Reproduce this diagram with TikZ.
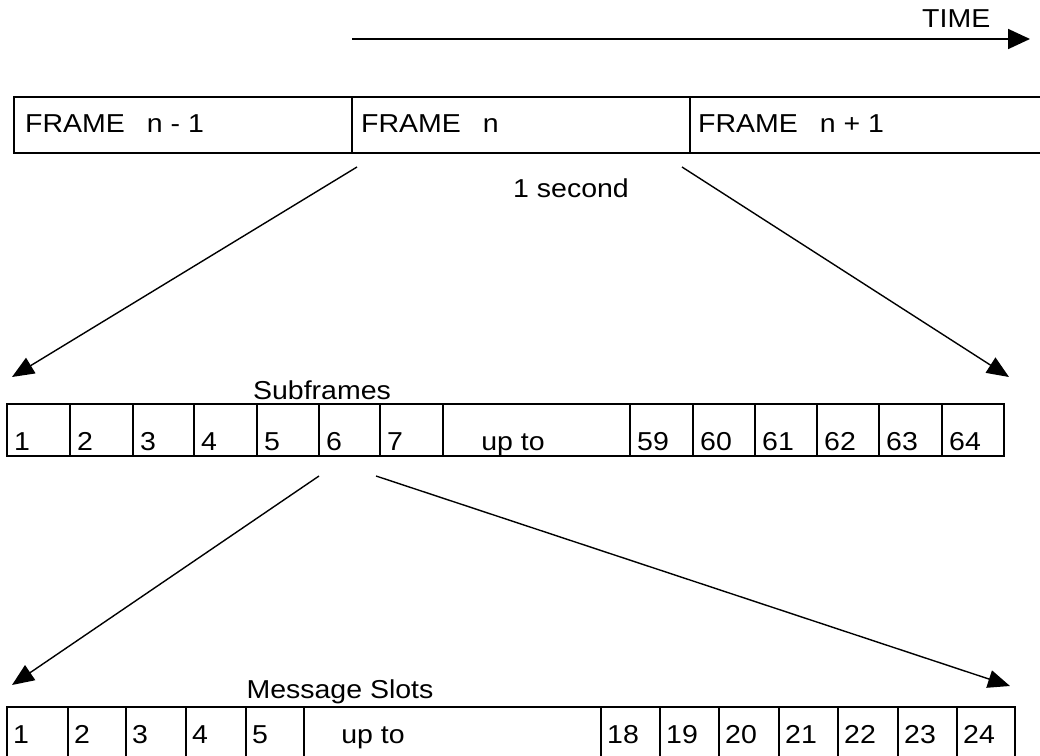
\documentclass[tikz,border=0pt]{standalone}
\usepackage{fontspec}
\setmainfont{Liberation Sans}[FakeStretch=1.1]
\usetikzlibrary{arrows.meta}
\begin{document}
\begin{tikzpicture}[x=1bp,y=-1bp,
  box/.style={line width=1.8bp},
  txt/.style={anchor=base west, inner sep=0pt, font=\fontsize{26}{30}\selectfont},
  ctxt/.style={anchor=base, inner sep=0pt, font=\fontsize{26}{30}\selectfont},
  link/.style={line width=1.4bp, -{Triangle[length=22bp,width=18bp]}},
  timeline/.style={line width=1.8bp, -{Triangle[length=22bp,width=20bp]}}
]
\clip (0,0) rectangle (1040,756);

% time axis
\coordinate (t0) at (352,39);
\coordinate (t1) at (1030,39);
\draw[timeline] (t0) -- (t1);
\node[txt] (time) at (922,28) {TIME};

% frame row (open to the right)
\draw[box] (1050,97) -- (14,97) -- (14,153) -- (1050,153);
\draw[box] (352,97) -- (352,153);
\draw[box] (690,97) -- (690,153);
\node[txt] (fprev) at (25,132) {FRAME\hspace{22bp}n - 1};
\node[txt] (fcur)  at (361,132) {FRAME\hspace{22bp}n};
\node[txt] (fnext) at (698,132) {FRAME\hspace{22bp}n + 1};
\node[ctxt] (sec) at (571,197) {1 second};

% subframe row
\node[ctxt] (sublbl) at (322,399) {Subframes};
\draw[box] (7,404) rectangle (1004,456);
\foreach \x in {70,133,194,257,319,380,443,630,693,755,817,879,942}
  \draw[box] (\x,404) -- (\x,456);
\foreach \x/\t [count=\i] in {7/1,70/2,133/3,194/4,257/5,319/6,380/7,630/59,693/60,755/61,817/62,879/63,942/64}
  \node[txt] (sf\i) at (\x+7,450) {\t};
\node[ctxt] (sfup) at (513,450) {up to};

% message slot row (open at the bottom)
\node[ctxt] (msglbl) at (340,698) {Message Slots};
\draw[box] (7,770) -- (7,707) -- (1015,707) -- (1015,770);
\foreach \x in {68,126,186,246,304,601,660,719,779,838,898,957}
  \draw[box] (\x,707) -- (\x,770);
\foreach \x/\t [count=\i] in {7/1,68/2,126/3,186/4,246/5,601/18,660/19,719/20,779/21,838/22,898/23,957/24}
  \node[txt] (ms\i) at (\x+6,743) {\t};
\node[ctxt] (msup) at (373,743) {up to};

% expansion arrows
\coordinate (fa) at (357,167);
\coordinate (fb) at (682,167);
\coordinate (sa) at (12,377);
\coordinate (sb) at (1009,377);
\draw[link] (fa) -- (sa);
\draw[link] (fb) -- (sb);

\coordinate (ga) at (319,476);
\coordinate (gb) at (376,476);
\coordinate (ma) at (12,685);
\coordinate (mb) at (1010,686);
\draw[link] (ga) -- (ma);
\draw[link] (gb) -- (mb);
\end{tikzpicture}
\end{document}
